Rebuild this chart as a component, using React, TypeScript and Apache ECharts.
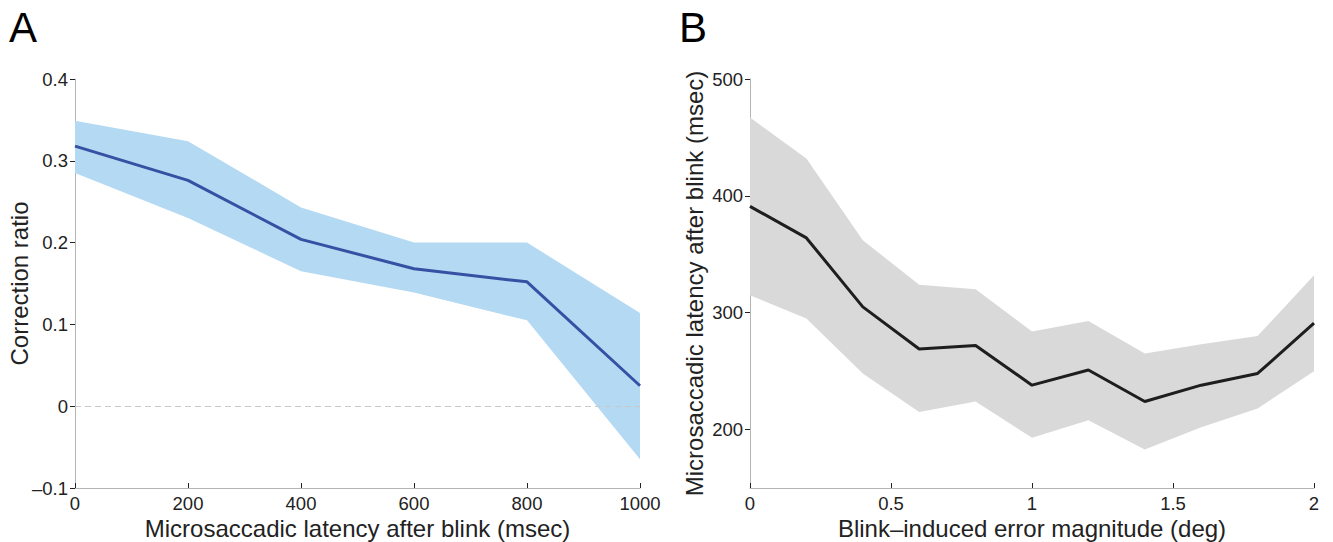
import React, { useEffect, useRef } from "react";
import * as echarts from "echarts";

// Panel A: correction ratio vs microsaccadic latency after blink
const latencyA = [0, 200, 400, 600, 800, 1000];
const meanA = [0.318, 0.276, 0.204, 0.168, 0.152, 0.025];
const upperA = [0.349, 0.324, 0.243, 0.2, 0.2, 0.114];
const lowerA = [0.285, 0.23, 0.165, 0.139, 0.105, -0.065];

// Panel B: microsaccadic latency vs blink-induced error magnitude
const errorB = [0, 0.2, 0.4, 0.6, 0.8, 1.0, 1.2, 1.4, 1.6, 1.8, 2.0];
const meanB = [391, 364, 305, 269, 272, 238, 251, 224, 238, 248, 291];
const upperB = [467, 432, 362, 324, 320, 284, 293, 265, 273, 280, 332];
const lowerB = [315, 295, 248, 215, 224, 193, 208, 183, 202, 218, 250];

const yTicksB = [200, 300, 400, 500];

const FONT = '"Liberation Sans", Arial, Helvetica, sans-serif';
const AXIS_GRAY = "#b4b4b4";
const TEXT = "#222";

function band(xs: number[], up: number[], lo: number[], fill: string, xi: number) {
  return {
    type: "custom",
    xAxisIndex: xi,
    yAxisIndex: xi,
    data: [[xs[0], up[0]]],
    silent: true,
    z: 1,
    renderItem: (_params: any, api: any) => {
      const top = xs.map((x, i) => api.coord([x, up[i]]));
      const bot = xs.map((x, i) => api.coord([x, lo[i]])).reverse();
      return {
        type: "polygon",
        shape: { points: [...top, ...bot] },
        style: { fill },
      };
    },
  };
}

function baseAxis() {
  return {
    axisLine: { show: true, onZero: false, lineStyle: { color: AXIS_GRAY, width: 1 } },
    splitLine: { show: false },
    axisLabel: { color: TEXT, fontSize: 18.5, fontFamily: FONT },
    nameTextStyle: { color: TEXT, fontSize: 24, fontFamily: FONT },
    nameLocation: "middle" as const,
    nameMoveOverlap: false,
  };
}

export default function App() {
  const ref = useRef<HTMLDivElement>(null);
  useEffect(() => {
    if (!ref.current) return;
    const chart = echarts.init(ref.current, undefined, { renderer: "svg" });
    const fmtA = (v: number) => {
      const r = Number(v.toFixed(1));
      return r < 0 ? "–" + Math.abs(r) : String(r);
    };
    const fmtPlain = (v: number) => String(Number(v.toFixed(2)));
    chart.setOption({
      animation: false,
      backgroundColor: "#fff",
      textStyle: { fontFamily: FONT },
      grid: [
        { left: 75, top: 79, width: 565, height: 409, containLabel: false, outerBoundsMode: "none" },
        { left: 750, top: 79, width: 564, height: 409, containLabel: false, outerBoundsMode: "none" },
      ],
      xAxis: [
        {
          ...baseAxis(),
          gridIndex: 0,
          type: "value",
          min: 0,
          max: 1000,
          interval: 200,
          name: "Microsaccadic latency after blink (msec)",
          nameGap: 28,
          axisTick: { show: true, inside: true, length: 5, lineStyle: { color: TEXT } },
          axisLabel: { ...baseAxis().axisLabel, margin: 6, formatter: fmtPlain },
        },
        {
          ...baseAxis(),
          gridIndex: 1,
          type: "value",
          min: 0,
          max: 2,
          interval: 0.5,
          name: "Blink–induced error magnitude (deg)",
          nameGap: 28,
          axisTick: { show: true, inside: true, length: 5, lineStyle: { color: TEXT } },
          axisLabel: { ...baseAxis().axisLabel, margin: 6, formatter: fmtPlain },
        },
      ],
      yAxis: [
        {
          ...baseAxis(),
          gridIndex: 0,
          type: "value",
          min: -0.1,
          max: 0.4,
          interval: 0.1,
          name: "Correction ratio",
          nameGap: 44,
          axisTick: { show: true, inside: false, length: 5, lineStyle: { color: TEXT } },
          axisLabel: { ...baseAxis().axisLabel, margin: 7, formatter: fmtA },
        },
        {
          ...baseAxis(),
          gridIndex: 1,
          type: "value",
          min: 150,
          max: 500,
          name: "Microsaccadic latency after blink (msec)",
          nameGap: 44,
          axisTick: {
            show: true,
            inside: false,
            length: 5,
            lineStyle: { color: TEXT },
            customValues: yTicksB,
          },
          axisLabel: { ...baseAxis().axisLabel, margin: 7, customValues: yTicksB, formatter: fmtPlain },
        },
      ],
      graphic: [
        { type: "text", left: 9, top: 6, style: { text: "A", fontSize: 42, fontFamily: FONT, fill: "#000" } },
        { type: "text", left: 679, top: 6, style: { text: "B", fontSize: 42, fontFamily: FONT, fill: "#000" } },
      ],
      series: [
        band(latencyA, upperA, lowerA, "#b4d9f2", 0),
        {
          type: "line",
          xAxisIndex: 0,
          yAxisIndex: 0,
          data: latencyA.map((x, i) => [x, meanA[i]]),
          showSymbol: false,
          lineStyle: { color: "#3651a3", width: 3 },
          z: 3,
          markLine: {
            silent: true,
            symbol: "none",
            label: { show: false },
            lineStyle: { color: "#c8c8c8", type: [6, 4], width: 1 },
            data: [{ yAxis: 0 }],
          },
        },
        band(errorB, upperB, lowerB, "#d9d9d9", 1),
        {
          type: "line",
          xAxisIndex: 1,
          yAxisIndex: 1,
          data: errorB.map((x, i) => [x, meanB[i]]),
          showSymbol: false,
          lineStyle: { color: "#1e1e1e", width: 3 },
          z: 3,
        },
      ],
    });
    return () => chart.dispose();
  }, []);
  return (
    <div
      ref={ref}
      style={{ position: "fixed", left: 0, top: 0, width: 1333, height: 542, background: "#fff" }}
    />
  );
}
